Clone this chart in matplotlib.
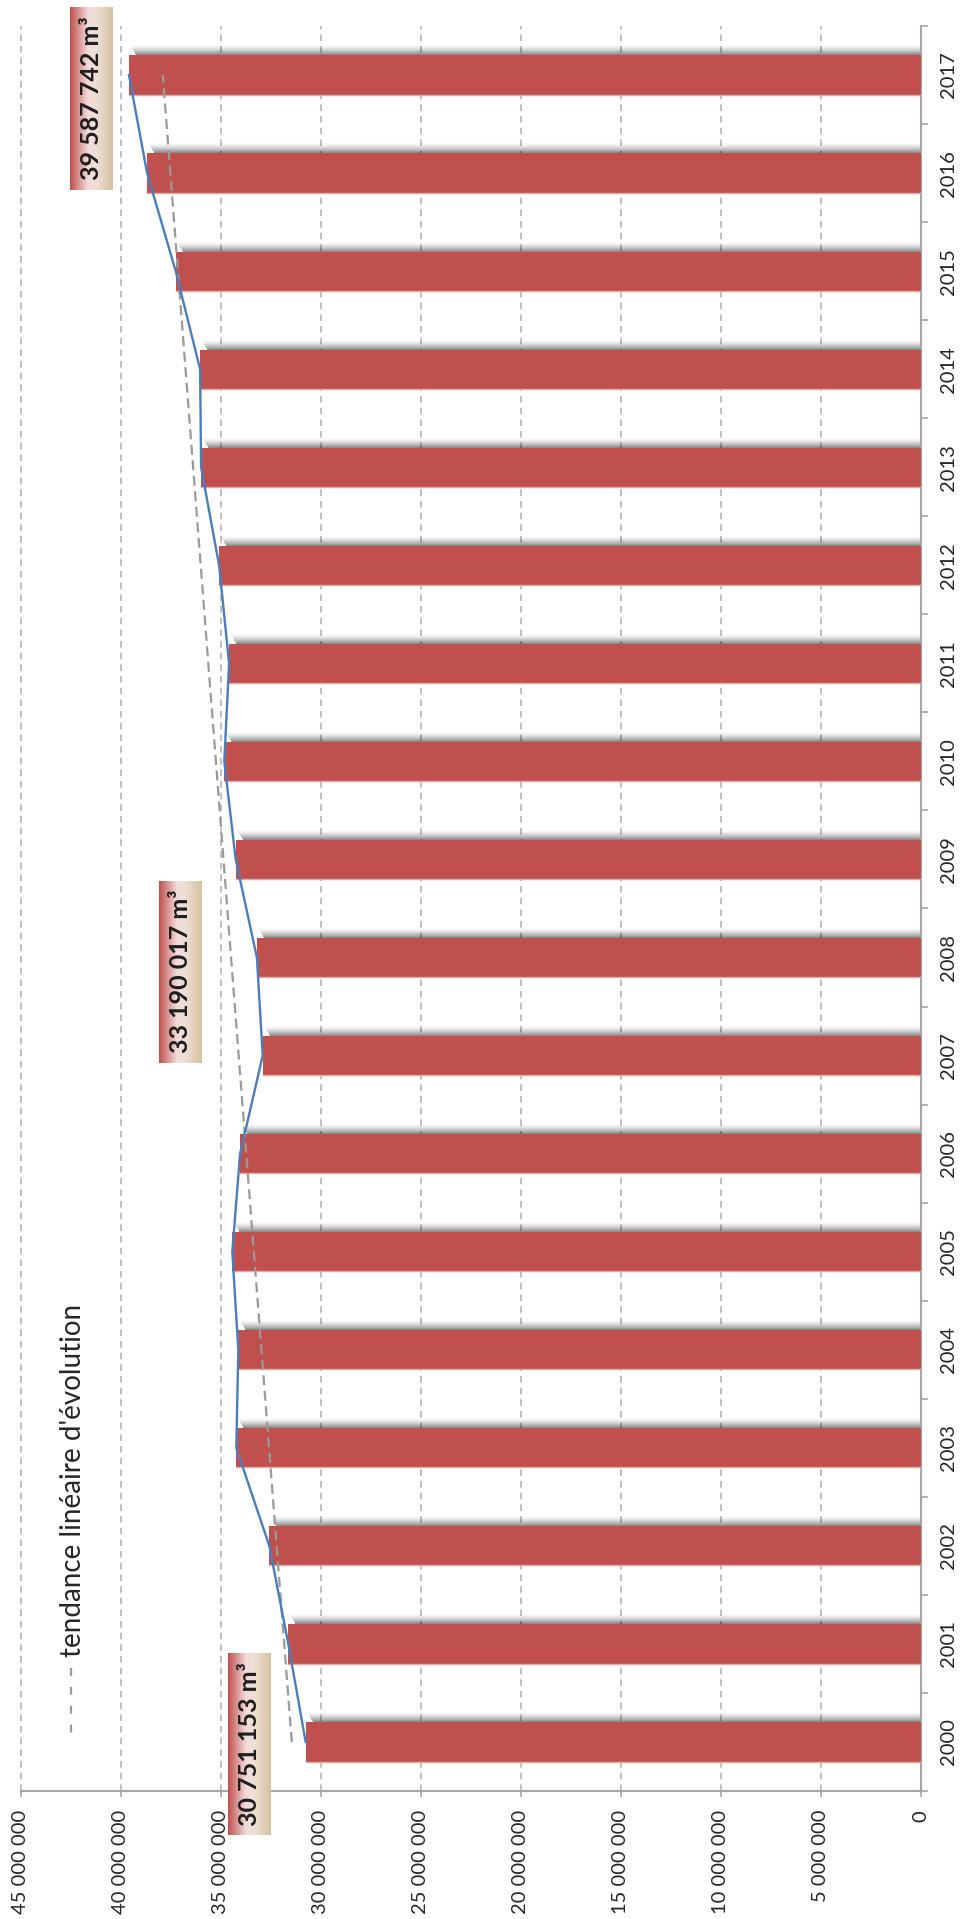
import numpy as np
import matplotlib
matplotlib.use("Agg")
import matplotlib.pyplot as plt
from matplotlib.colors import LinearSegmentedColormap
from matplotlib.lines import Line2D
from matplotlib.patches import Rectangle
from matplotlib.ticker import FuncFormatter

plt.rcParams['font.family'] = ['Lato', 'DejaVu Sans']

# Annual volumes (m³)
years = list(range(2000, 2018))
volumes = [30751153, 31620000, 32570000, 34220000, 34120000, 34420000,
           34030000, 32900000, 33190017, 34250000, 34820000, 34580000,
           35080000, 35980000, 36030000, 37250000, 38680000, 39587742]
labelled_years = [2000, 2008, 2017]
value_ticks = list(range(0, 45000001, 5000000))
legend_text = "tendance linéaire d'évolution"


def spaced(v):
    return f"{int(round(v)):,}".replace(",", " ")


W, H = 966, 1919
fig = plt.figure(figsize=(W / 100, H / 100), dpi=100)
ax_left, ax_right, ax_top, ax_bottom = 20.7, 920.7, 26.0, 1791.0
ax = fig.add_axes([ax_left / W, (H - ax_bottom) / H,
                   (ax_right - ax_left) / W, (ax_bottom - ax_top) / H])

n = len(years)
idx = np.arange(n)
ax.set_xlim(45000000, 0)
ax.set_ylim(-0.5, n - 0.5)

# pixel sizes in data units
px_x = 45000000 / (ax_right - ax_left)
px_y = n / (ax_bottom - ax_top)

bar_h = 0.40
bar_color = '#c0504d'

# soft shadow on the upper side of each bar
for i, v in zip(idx, volumes):
    top = i + bar_h / 2
    steps = 10
    for k in range(steps):
        a = 0.45 * (1 - k / steps) ** 1.5
        ax.add_patch(Rectangle((0, top + k * px_y), v - 7 * px_x + k * 0.6 * px_x, px_y,
                               facecolor='black', edgecolor='none', alpha=a, zorder=2))

ax.barh(idx, volumes, height=bar_h, color=bar_color, edgecolor='none', zorder=3)
# light lower edge of the bars
for i, v in zip(idx, volumes):
    ax.plot([0, v], [i - bar_h / 2, i - bar_h / 2], color='#e3a9a7', lw=1.0, zorder=3.1)

# series line through bar ends
ax.plot(volumes, idx, color='#4a7ebb', lw=1.7, zorder=5, solid_joinstyle='miter')

# linear trend
coef = np.polyfit(idx, volumes, 1)
ends = np.array([0, n - 1])
ax.plot(np.polyval(coef, ends), ends, color='#9a9a9a', lw=1.6,
        ls=(0, (4.5, 2.5)), zorder=4)

# grid and axes
ax.set_axisbelow(True)
ax.xaxis.grid(True, color='#b5b5b5', lw=1.2, ls=(0, (4, 3)), zorder=0)
for gl in ax.get_xgridlines():
    gl.set_clip_on(False)
for s in ('left', 'top'):
    ax.spines[s].set_visible(False)
for s in ('right', 'bottom'):
    ax.spines[s].set_color('#a6a6a6')
    ax.spines[s].set_linewidth(1.5)

ax.set_xticks(value_ticks)
ax.xaxis.set_major_formatter(FuncFormatter(lambda v, p: spaced(v)))
ax.tick_params(axis='x', direction='out', length=4.5, width=1.2, color='#a6a6a6',
               labelsize=14.5, labelcolor='#262626', pad=9, labelrotation=90)

ax.yaxis.tick_right()
ax.set_yticks(idx)
ax.set_yticklabels([str(y) for y in years], rotation=90, va='center')
ax.set_yticks(np.arange(-0.5, n, 1.0), minor=True)
ax.tick_params(axis='y', which='major', length=0, labelsize=14.5,
               labelcolor='#262626', pad=14)
ax.tick_params(axis='y', which='minor', direction='out', length=5, width=1.2,
               color='#a6a6a6')

# value labels with gradient boxes
box_cmap = LinearSegmentedColormap.from_list(
    'box', [(0, '#c0504d'), (0.42, '#f2dcdb'), (0.62, '#eedfd6'), (1, '#d4c29f')])
grad = np.linspace(0, 1, 256).reshape(1, -1)
label_place = {2000: (2.80e6, -0.02), 2008: (3.84e6, 7.855 - 8), 2017: (1.88e6, 16.76 - 17)}
box_w = 43 * px_x
box_hgt = 182 * px_y
for yr in labelled_years:
    i = years.index(yr)
    v = volumes[i]
    dx, dy = label_place[yr]
    cx, cy = v + dx, i + dy
    im = ax.imshow(grad, cmap=box_cmap, aspect='auto', interpolation='bilinear',
                   extent=[cx + box_w / 2, cx - box_w / 2, cy - box_hgt / 2, cy + box_hgt / 2],
                   zorder=6)
    im.set_clip_on(False)
    ax.text(cx, cy, f"{spaced(v)} m³", rotation=90, ha='center', va='center',
            fontsize=18, fontweight='bold', color='#1e1e1e', zorder=7, clip_on=False)

ax.set_xlim(45000000, 0)
ax.set_ylim(-0.5, n - 0.5)

# legend for the trend line
fig.add_artist(Line2D([70.7 / W, 70.7 / W], [(H - 1668) / H, (H - 1737) / H],
                      color='#9a9a9a', lw=1.6, ls=(0, (3.5, 5))))
fig.text(73 / W, (H - 1657) / H, legend_text, rotation=90, ha='center', va='bottom',
         fontsize=20, color='#262626')

fig.savefig('out.png', dpi=100, facecolor='white')
